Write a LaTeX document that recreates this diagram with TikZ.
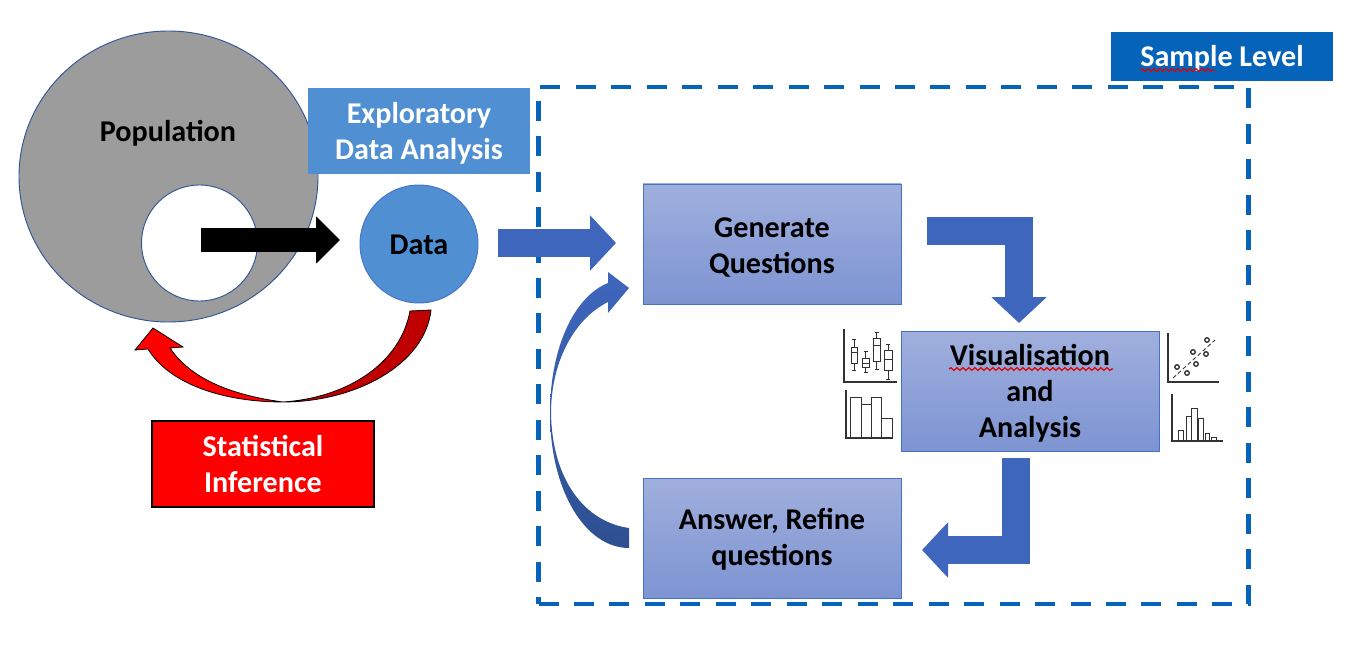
\documentclass[tikz,border=0pt]{standalone}
\usepackage{fontspec}
\setmainfont{Carlito}
\usepackage{tikz}
\usetikzlibrary{arrows.meta,positioning,calc,shapes.geometric,decorations.pathmorphing}
\definecolor{accent}{RGB}{5,99,185}
\definecolor{steel}{RGB}{68,114,196}
\definecolor{edge}{RGB}{47,85,151}
\definecolor{soft}{RGB}{80,144,210}
\definecolor{block}{RGB}{62,102,188}
\definecolor{blockdark}{RGB}{46,80,146}
\definecolor{boxtop}{RGB}{160,175,221}
\definecolor{boxbot}{RGB}{125,148,210}
\definecolor{chart}{RGB}{50,50,50}
\newcommand{\lift}[1]{\rule{0pt}{#1}}

\begin{document}
\begin{tikzpicture}[x=0.75pt, y=-0.75pt, font=\fontsize{22.6}{27}\selectfont\bfseries,
  st/.style={draw=steel, line width=0.5pt, top color=boxtop, bottom color=boxbot,
             minimum width=193.5pt, minimum height=90pt, align=center, inner sep=0pt, outer sep=0pt},
  lb/.style={minimum width=166.5pt, align=center, inner sep=0pt, outer sep=0pt},
  disc/.style={circle, draw=edge, line width=0.7pt, inner sep=0pt, outer sep=0pt},
  ar/.style={draw=block, line width=21pt, -{Triangle[length=19.5pt, width=40.5pt, fill=block]}},
  sq/.style={draw=red!90!black, line width=0.9pt, decorate, decoration={snake, segment length=4.5pt, amplitude=1pt}},
  ch/.style={draw=chart, line width=0.65pt},
  ax/.style={draw=chart, line width=0.9pt}]
\useasboundingbox (0,0) rectangle (1352,649);
% population and sample
\node[ellipse, draw=edge, line width=0.7pt, fill=black!39, minimum width=224.25pt, minimum height=218.25pt, inner sep=0pt] (pop) at (168.5,176.5) {};
\node[disc, fill=white, minimum size=87pt] (hole) at (199.5,243) {};
\node (poplabel) at (168,131) {\lift{19pt}Population};
\node[disc, draw=steel, fill=soft, minimum size=88.5pt] (data) at (419,244) {\lift{16pt}Data};
\node[lb, fill=soft, minimum height=64.5pt, text=white] (eda) at (419,131) {\lift{19.5pt}Exploratory\\Data Analysis};
\draw[-{Triangle[length=18pt, width=34.5pt]}, line width=18pt] (201,240) coordinate (holeout) -- (340,240) coordinate (datain);
% sample level frame
\node[draw=accent, dashed, dash pattern=on 15pt off 11.6pt, line width=3.4pt, minimum width=532.5pt, minimum height=387.75pt, inner sep=0pt] (frame) at (893.5,345.5) {};
\node[lb, fill=accent, minimum height=36.75pt, text=white] (level) at (1222,56.5) {\lift{19pt}Sample Level};
\draw[sq] (1140,70) -- (1215,70);
% cycle
\node[st] (gen) at (772,244) {\lift{19.5pt}Generate\\Questions};
\node[st] (vis) at (1030,391) {\lift{19.5pt}Visualisation\\and\\Analysis};
\node[st] (ans) at (772,538) {\lift{18pt}Answer, Refine\\questions};
\draw[sq] (949,369) -- (1113,369);
\draw[ar] (498,243) coordinate (dataout) -- (616,243) coordinate (genin);
\draw[ar] (927,231) coordinate (genout) -| (1019,323) coordinate (visin);
\draw[ar] (1016,458) coordinate (visout) |- (922,550) coordinate (ansin);
% curved arrows
\shade[top color=block, bottom color=blockdark]
  (629,288) -- (608,272) -- (608,283) .. controls (573,297) and (550,350) .. (550,413)
  .. controls (550,490) and (585,548) .. (629,548) -- (629,528)
  .. controls (585,522) and (552,480) .. (551,413)
  .. controls (551,365) and (572,320) .. (608,302) -- (608,313) -- cycle;
\draw[draw=black, line width=0.6pt, fill=red!75!black]
  (410,311) -- (431,310) .. controls (425,365) and (355,402) .. (283,402)
  .. controls (345,398) and (400,365) .. (410,311) -- cycle;
\draw[draw=black, line width=0.6pt, fill=red]
  (283,402) .. controls (225,402) and (170,385) .. (148,349) -- (135,350) -- (153,328) -- (183,347) -- (170,348)
  .. controls (190,378) and (230,395) .. (283,402) -- cycle;
\node[lb, draw=black, line width=0.8pt, fill=red, minimum height=64.5pt, text=white] (infer) at (263,464) {Statistical\\Inference};
% box plots
\draw[ax] (844,329) |- (897,382);
\foreach \xa/\xb/\wa/\ya/\ym/\yb/\wb in {851/857/339/347/352/363/370, 862/869/351/358/363/367/372, 873/880/332/338/345/361/369, 884/892/344/350/359/370/379} {
  \draw[ch] (\xa,\ya) rectangle (\xb,\yb) (\xa,\ym) -- (\xb,\ym);
  \draw[ch] ({(\xa+\xb)/2},\wa) -- ({(\xa+\xb)/2},\ya) ({(\xa+\xb)/2},\yb) -- ({(\xa+\xb)/2},\wb);
  \draw[ch] ({(\xa+\xb)/2-2},\wa) -- ({(\xa+\xb)/2+2},\wa) ({(\xa+\xb)/2-2},\wb) -- ({(\xa+\xb)/2+2},\wb);
}
% bars
\draw[ax] (846,390) |- (893,438);
\foreach \xa/\xb/\yt in {850/861/397, 861/871/404, 871/881/397, 881/892/418} {
  \draw[ch] (\xa,438) rectangle (\xb,\yt);
}
% scatter
\draw[ax] (1168,333) |- (1219,382);
\draw[ch, densely dashed] (1173,378) -- (1215,340);
\foreach \xa/\ya in {1177/367, 1187/373, 1196/364, 1193/352, 1206/354, 1207/340} {
  \draw[ch, line width=1pt] (\xa,\ya) circle (1.7pt);
}
% histogram
\draw[ax] (1172,394) |- (1223,441);
\foreach \xa/\xb/\yt in {1178/1183/430, 1186/1191/416, 1191/1197/408, 1198/1203/418, 1205/1209/433, 1211/1216/437} {
  \draw[ch] (\xa,441) rectangle (\xb,\yt);
}
\end{tikzpicture}
\end{document}
